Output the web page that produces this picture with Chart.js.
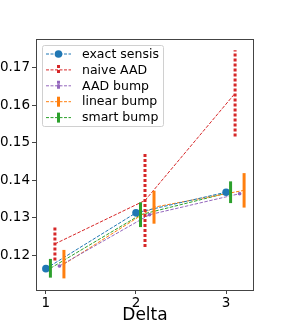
<!DOCTYPE html>
<html>
<head>
<meta charset="utf-8">
<script src="https://cdn.jsdelivr.net/npm/chart.js@4/dist/chart.umd.min.js"></script>
<style>
  html, body { margin: 0; padding: 0; background: #fff; }
  #wrap { width: 283px; height: 326px; }
</style>
</head>
<body>
<div id="wrap"><canvas id="chart" width="283" height="326"></canvas></div>
<script>
// values
const seriesNames = ["exact sensis", "naive AAD", "AAD bump", "linear bump", "smart bump"];
const seriesColors = ["#1f77b4", "#d62728", "#9467bd", "#ff7f0e", "#2ca02c"];

const exactX = [1, 2, 3];
const exactY = [0.1164, 0.1313, 0.1368];

const naiveX = [1.1, 2.1, 3.1];
const naiveY = [0.1230, 0.1346, 0.1632];
const naiveErr = [0.0044, 0.0124, 0.0115];

const aadX = [1.15, 2.15, 3.15];
const aadY = [0.1171, 0.1308, 0.1364];
const aadErr = [0.0003, 0.0003, 0.0003];

const linearX = [1.2, 2.2, 3.2];
const linearY = [0.1176, 0.1328, 0.1373];
const linearErr = [0.0038, 0.0044, 0.0046];

const smartX = [1.05, 2.05, 3.05];
const smartY = [0.1165, 0.1308, 0.1368];
const smartErr = [0.0025, 0.0033, 0.0029];

const xTicks = [1, 2, 3];
const yTicks = [0.12, 0.13, 0.14, 0.15, 0.16, 0.17];

function pts(xs, ys) {
  return xs.map((x, i) => ({ x: x, y: ys[i] }));
}

const FONT = "DejaVu Sans";

// error bars + frame + legend drawn through the chart scales
const errorBars = {
  id: "errorBars",
  afterDatasetsDraw(chart) {
    const ctx = chart.ctx;
    const xs = chart.scales.x, ys = chart.scales.y;
    chart.data.datasets.forEach(ds => {
      if (!ds.err) return;
      ctx.save();
      ctx.strokeStyle = ds.borderColor;
      ctx.lineWidth = 3;
      ctx.setLineDash(ds.errDash || []);
      ds.data.forEach((p, i) => {
        const px = xs.getPixelForValue(p.x);
        ctx.beginPath();
        ctx.moveTo(px, ys.getPixelForValue(p.y - ds.err[i]));
        ctx.lineTo(px, ys.getPixelForValue(p.y + ds.err[i]));
        ctx.stroke();
      });
      ctx.restore();
    });
  },
  afterDraw(chart) {
    const ctx = chart.ctx;
    const a = chart.chartArea;
    ctx.save();
    ctx.strokeStyle = "#444";
    ctx.lineWidth = 1;
    ctx.strokeRect(a.left + 0.5, a.top + 0.5, a.right - a.left - 1, a.bottom - a.top);
    ctx.restore();

    // legend box in the upper left
    const lx = a.left + 6, ly = a.top + 6, lw = 121, lh = 81;
    ctx.save();
    ctx.fillStyle = "rgba(255,255,255,0.8)";
    ctx.strokeStyle = "#d0d0d0";
    ctx.lineWidth = 1;
    ctx.beginPath();
    ctx.roundRect(lx + 0.5, ly + 0.5, lw, lh, 2);
    ctx.fill();
    ctx.stroke();
    ctx.font = "12.5px '" + FONT + "'";
    ctx.textBaseline = "middle";
    chart.data.datasets.forEach((ds, i) => {
      const yy = ly + 9 + i * 15.9;
      const x0 = lx + 4, x1 = lx + 29, xm = (x0 + x1) / 2;
      ctx.strokeStyle = ds.borderColor;
      ctx.lineWidth = 1;
      ctx.setLineDash([3, 1.5]);
      ctx.beginPath();
      ctx.moveTo(x0, yy);
      ctx.lineTo(x1, yy);
      ctx.stroke();
      if (ds.err) {
        ctx.lineWidth = 3;
        ctx.setLineDash(ds.errDash || []);
        ctx.beginPath();
        ctx.moveTo(xm, yy - 5);
        ctx.lineTo(xm, yy + 5);
        ctx.stroke();
      }
      ctx.setLineDash([]);
      ctx.fillStyle = ds.borderColor;
      if (ds.pointRadius > 0) {
        ctx.beginPath();
        ctx.arc(xm, yy, ds.pointRadius, 0, Math.PI * 2);
        ctx.fill();
      }
      ctx.fillStyle = "#000";
      ctx.fillText(ds.label, lx + 40, yy + 0.5);
    });
    ctx.restore();
  }
};

function lineSet(i, xs, ys, err, extra) {
  return Object.assign({
    label: seriesNames[i],
    data: pts(xs, ys),
    err: err,
    borderColor: seriesColors[i],
    backgroundColor: seriesColors[i],
    borderWidth: 1,
    borderDash: [3.5, 1.5],
    pointRadius: 0,
    pointHoverRadius: 0,
    tension: 0,
    fill: false
  }, extra || {});
}

new Chart(document.getElementById("chart"), {
  type: "line",
  data: {
    datasets: [
      lineSet(0, exactX, exactY, null, { pointRadius: 3.8, pointBorderWidth: 0 }),
      lineSet(1, naiveX, naiveY, naiveErr, { errDash: [3, 2] }),
      lineSet(2, aadX, aadY, aadErr, { pointRadius: 1.8, pointBorderWidth: 0, errDash: [3, 2] }),
      lineSet(3, linearX, linearY, linearErr),
      lineSet(4, smartX, smartY, smartErr)
    ]
  },
  options: {
    responsive: false,
    animation: false,
    layout: { padding: { top: 39, right: 29, left: 0, bottom: 0 } },
    plugins: { legend: { display: false }, tooltip: { enabled: false } },
    scales: {
      x: {
        type: "linear",
        min: 0.89,
        max: 3.31,
        afterBuildTicks: s => { s.ticks = xTicks.map(v => ({ value: v })); },
        afterFit: s => { s.height = 36; },
        grid: { display: true, drawOnChartArea: false, tickLength: 4, tickColor: "#444" },
        border: { display: false },
        ticks: {
          color: "#000",
          font: { family: FONT, size: 13.5 },
          padding: 1,
          maxRotation: 0,
          callback: v => String(v)
        },
        title: {
          display: true,
          text: "Delta",
          color: "#000",
          font: { family: FONT, size: 17 },
          padding: { top: 0, bottom: 0 }
        }
      },
      y: {
        type: "linear",
        min: 0.1107,
        max: 0.1777,
        afterBuildTicks: s => { s.ticks = yTicks.map(v => ({ value: v })); },
        afterFit: s => { s.width = 36; },
        grid: { display: true, drawOnChartArea: false, tickLength: 4, tickColor: "#444" },
        border: { display: false },
        ticks: {
          color: "#000",
          font: { family: FONT, size: 13.5 },
          padding: 2,
          callback: v => v.toFixed(2)
        }
      }
    }
  },
  plugins: [errorBars]
});
</script>
</body>
</html>
